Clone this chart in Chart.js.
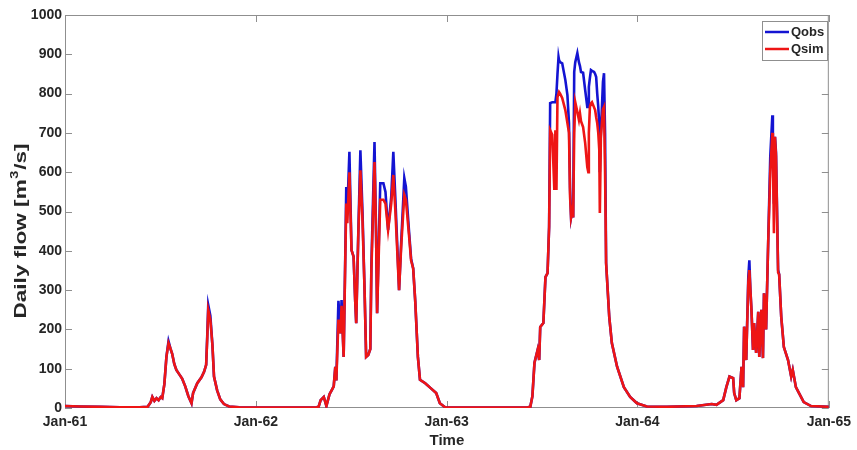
<!DOCTYPE html>
<html>
<head>
<meta charset="utf-8">
<script src="https://cdn.jsdelivr.net/npm/chart.js@4.4.1/dist/chart.umd.min.js"></script>
<style>
  html, body { margin: 0; padding: 0; background: #fff; }
  #wrap { width: 857px; height: 450px; }
</style>
</head>
<body>
<div id="wrap"><canvas id="flowChart" width="857" height="450"></canvas></div>
<script>
// days since 1 Jan 1961 at the break points of the curves
let days = [0, 29, 67, 105, 143, 158, 164, 167, 171, 175, 179, 183, 186, 190, 194, 198, 202, 205, 209, 213,
  219, 224, 230, 236, 242, 245, 253, 261, 266, 270, 272, 274, 278, 282, 285, 291, 297, 304, 314, 333,
  371, 428, 481, 485, 489, 495, 500, 506, 510, 514, 517, 519, 523, 527, 529, 533, 536, 538, 540, 544,
  548, 552, 555, 557, 561, 565, 569, 573, 576, 580, 584, 586, 592, 595, 597, 603, 609, 613, 618, 624,
  628, 632, 639, 643, 649, 652, 658, 662, 666, 670, 675, 679, 689, 700, 710, 717, 727, 770, 828, 885,
  890, 894, 898, 904, 907, 909, 915, 919, 923, 926, 928, 932, 936, 938, 940, 942, 944, 945, 947, 951,
  957, 961, 964, 966, 968, 970, 972, 974, 976, 980, 983, 985, 987, 991, 995, 999, 1001, 1002, 1004, 1006,
  1008, 1012, 1014, 1016, 1018, 1020, 1022, 1023, 1025, 1029, 1031, 1033, 1035, 1041, 1046, 1056, 1069, 1081, 1094, 1113,
  1151, 1208, 1237, 1246, 1259, 1265, 1271, 1278, 1280, 1284, 1290, 1294, 1297, 1299, 1303, 1307, 1309, 1311, 1313, 1316,
  1318, 1322, 1326, 1328, 1332, 1335, 1337, 1341, 1345, 1349, 1353, 1354, 1356, 1358, 1360, 1364, 1366, 1370, 1375, 1383,
  1389, 1392, 1398, 1404, 1413, 1427, 1461];

// observed daily flow [m3/s]
let qObs = [5, 4, 3, 2, 2, 3, 15, 28, 18, 25, 20, 28, 25, 60, 130, 170, 150, 138, 112, 97,
  85, 75, 55, 30, 12, 38, 63, 78, 92, 110, 180, 262, 235, 160, 80, 45, 22, 10, 4, 2,
  1, 1, 2, 3, 20, 28, 5, 35, 45, 55, 105, 70, 273, 190, 275, 130, 380, 562, 500, 652,
  402, 385, 275, 216, 445, 656, 500, 300, 130, 135, 150, 360, 677, 445, 241, 572, 572, 550, 453, 537,
  652, 530, 300, 420, 585, 563, 450, 380, 355, 270, 130, 72, 63, 50, 38, 12, 2, 1, 1, 2,
  3, 30, 115, 148, 122, 206, 216, 333, 343, 461, 776, 778, 778, 778, 800, 850, 893, 885, 880, 877,
  835, 796, 725, 560, 485, 500, 485, 855, 880, 903, 880, 870, 855, 853, 809, 766, 766, 817, 840, 860,
  858, 855, 850, 842, 800, 766, 720, 600, 700, 830, 852, 700, 369, 232, 165, 105, 53, 28, 12, 4,
  3, 5, 10, 8, 20, 53, 80, 76, 38, 20, 25, 105, 53, 207, 122, 334, 376, 300, 250, 148,
  216, 140, 245, 130, 250, 127, 292, 200, 420, 640, 745, 700, 520, 690, 650, 351, 340, 232, 155, 122,
  80, 97, 53, 38, 15, 5, 3];

// simulated daily flow [m3/s]
let qSim = [5, 4, 3, 2, 2, 3, 15, 28, 18, 25, 20, 28, 25, 60, 130, 165, 150, 138, 112, 97,
  85, 75, 55, 30, 12, 38, 63, 78, 92, 110, 175, 250, 225, 160, 80, 45, 22, 10, 4, 2,
  1, 1, 2, 3, 20, 28, 5, 35, 45, 55, 105, 70, 225, 190, 260, 130, 370, 520, 470, 600,
  402, 385, 275, 216, 440, 605, 480, 300, 130, 135, 150, 350, 626, 445, 241, 530, 530, 520, 453, 520,
  593, 500, 300, 410, 542, 530, 440, 375, 355, 270, 130, 72, 63, 50, 38, 12, 2, 1, 1, 2,
  3, 30, 115, 148, 122, 206, 216, 333, 343, 461, 707, 695, 555, 707, 555, 791, 800, 804, 800, 789,
  758, 725, 700, 540, 485, 500, 485, 700, 778, 753, 733, 750, 730, 715, 674, 613, 600, 700, 766, 775,
  778, 765, 758, 740, 725, 700, 656, 496, 690, 760, 766, 600, 369, 232, 165, 105, 53, 28, 12, 4,
  3, 5, 10, 8, 20, 53, 80, 76, 38, 20, 25, 105, 53, 207, 122, 320, 351, 300, 250, 148,
  216, 140, 245, 130, 250, 127, 292, 200, 420, 600, 700, 660, 445, 690, 640, 345, 340, 232, 155, 122,
  80, 97, 53, 38, 15, 5, 3];

let yearTicks = [0, 365, 730, 1095, 1461];
let yearLabels = ['Jan-61', 'Jan-62', 'Jan-63', 'Jan-64', 'Jan-65'];

const axisGrey = '#8f8f8f';
const textColor = '#262626';
const fontFamily = '"Liberation Sans", Arial, sans-serif';

function toPoints(vals) {
  return days.map((d, i) => ({ x: d, y: vals[i] }));
}

// matlab style box with inward ticks on all four sides
const boxPlugin = {
  id: 'boxPlugin',
  beforeDatasetsDraw(chart) {
    const ctx = chart.ctx;
    const a = chart.chartArea;
    const xs = chart.scales.x, ys = chart.scales.y;
    const tl = 7;
    ctx.save();
    ctx.strokeStyle = axisGrey;
    ctx.lineWidth = 1;
    ctx.strokeRect(a.left + 0.5, a.top + 0.5, a.right - a.left - 1, a.bottom - a.top - 1);
    ctx.beginPath();
    ys.ticks.forEach(t => {
      const py = Math.round(ys.getPixelForValue(t.value)) + 0.5;
      ctx.moveTo(a.left, py); ctx.lineTo(a.left + tl, py);
      ctx.moveTo(a.right, py); ctx.lineTo(a.right - tl, py);
    });
    xs.ticks.forEach(t => {
      const px = Math.round(xs.getPixelForValue(t.value)) + 0.5;
      ctx.moveTo(px, a.bottom); ctx.lineTo(px, a.bottom - tl);
      ctx.moveTo(px, a.top); ctx.lineTo(px, a.top + tl);
    });
    ctx.stroke();
    ctx.restore();
  },
  afterDraw(chart) {
    const ctx = chart.ctx;
    ctx.save();

    // y axis title with superscript
    const big = 'bold 17px ' + fontFamily;
    const small = 'bold 11px ' + fontFamily;
    const p1 = 'Daily flow [m', p2 = '3', p3 = '/s]';
    ctx.font = big;
    const w1 = ctx.measureText(p1).width, w3 = ctx.measureText(p3).width;
    ctx.font = small;
    const w2 = ctx.measureText(p2).width + 1;
    const total = w1 + w2 + w3;
    const stretch = 175 / total;
    ctx.translate(20, 231);
    ctx.rotate(-Math.PI / 2);
    ctx.scale(stretch, 1);
    ctx.fillStyle = textColor;
    ctx.textBaseline = 'alphabetic';
    ctx.textAlign = 'left';
    let x0 = -total / 2;
    ctx.font = big;
    ctx.fillText(p1, x0, 6);
    ctx.font = small;
    ctx.fillText(p2, x0 + w1 + 0.5, -2);
    ctx.font = big;
    ctx.fillText(p3, x0 + w1 + w2, 6);
    ctx.restore();

    // legend box in the upper right corner
    ctx.save();
    const bx = 762, by = 21, bw = 65, bh = 39;
    ctx.fillStyle = '#fff';
    ctx.fillRect(bx, by, bw, bh);
    ctx.strokeStyle = axisGrey;
    ctx.lineWidth = 1;
    ctx.strokeRect(bx + 0.5, by + 0.5, bw, bh);
    ctx.font = 'bold 13px ' + fontFamily;
    ctx.textBaseline = 'middle';
    ctx.textAlign = 'left';
    const legendItems = [chart.data.datasets[0], chart.data.datasets[1]];
    legendItems.forEach((ds, i) => {
      const ly = by + 11 + i * 17;
      ctx.strokeStyle = ds.borderColor;
      ctx.lineWidth = 2.5;
      ctx.beginPath();
      ctx.moveTo(bx + 3, ly); ctx.lineTo(bx + 27, ly);
      ctx.stroke();
      ctx.fillStyle = textColor;
      ctx.fillText(ds.label, bx + 29, ly + 0.5);
    });
    ctx.restore();
  }
};

new Chart(document.getElementById('flowChart'), {
  type: 'line',
  data: {
    datasets: [
      {
        label: 'Qobs',
        data: toPoints(qObs),
        borderColor: '#1414d2',
        borderWidth: 2.6,
        pointRadius: 0,
        tension: 0,
        order: 2
      },
      {
        label: 'Qsim',
        data: toPoints(qSim),
        borderColor: '#ee1515',
        borderWidth: 2.6,
        pointRadius: 0,
        tension: 0,
        order: 1
      }
    ]
  },
  options: {
    responsive: false,
    animation: false,
    layout: { padding: { top: 15, right: 24, left: 0, bottom: 0 } },
    plugins: {
      legend: { display: false },
      tooltip: { enabled: false }
    },
    scales: {
      x: {
        type: 'linear',
        min: 0,
        max: 1461,
        grid: { display: false, drawTicks: false },
        border: { display: false },
        afterBuildTicks: s => { s.ticks = yearTicks.map(v => ({ value: v })); },
        afterFit: s => { s.height = 42; },
        ticks: {
          autoSkip: false,
          maxRotation: 0,
          padding: 6,
          color: textColor,
          font: { family: fontFamily, size: 14, weight: 'bold' },
          callback: (v, i) => yearLabels[i]
        },
        title: {
          display: true,
          text: 'Time',
          color: textColor,
          padding: { top: 0, bottom: 0 },
          font: { family: fontFamily, size: 15, weight: 'bold' }
        }
      },
      y: {
        min: 0,
        max: 1000,
        grid: { display: false, drawTicks: false },
        border: { display: false },
        afterFit: s => { s.width = 65; },
        ticks: {
          stepSize: 100,
          padding: 3,
          color: textColor,
          font: { family: fontFamily, size: 14, weight: 'bold' },
          callback: v => String(v)
        }
      }
    }
  },
  plugins: [boxPlugin]
});
</script>
</body>
</html>
